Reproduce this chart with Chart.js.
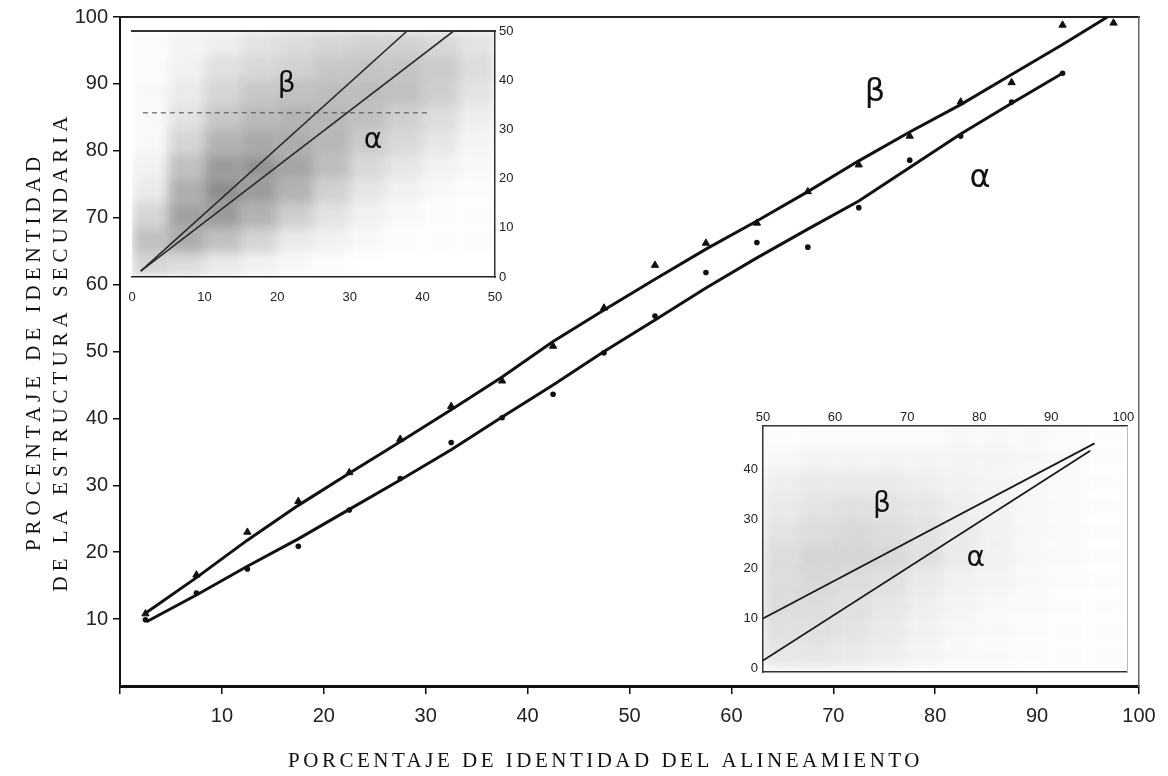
<!DOCTYPE html>
<html><head><meta charset="utf-8">
<script src="https://cdn.jsdelivr.net/npm/chart.js@4.4.1/dist/chart.umd.min.js"></script>
<style>
html,body{margin:0;padding:0;background:#fff;}
#wrap{position:relative;width:1168px;height:776px;overflow:hidden;background:#fff;}
canvas{position:absolute;display:block;}
#main{left:0;top:0;}
#in1{left:122px;top:18px;background:#fff;}
#in2{left:735px;top:398px;background:#fff;}
</style></head><body>
<div id="wrap">
<canvas id="main" width="1168" height="776"></canvas>
<canvas id="in1" width="410" height="300"></canvas>
<canvas id="in2" width="402" height="282"></canvas>
</div>
<script>
// ---------- MAIN CHART DATA ----------
const xTitle = 'PORCENTAJE DE IDENTIDAD DEL ALINEAMIENTO';
const yTitle = ['PROCENTAJE DE IDENTIDAD', 'DE LA ESTRUCTURA SECUNDARIA'];
const mainXTicks = [0,10,20,30,40,50,60,70,80,90,100];
const mainYTicks = [10,20,30,40,50,60,70,80,90,100];

const betaMarkerX = [2.5,7.5,12.5,17.5,22.5,27.5,32.5,37.5,42.5,47.5,52.5,57.5,62.5,67.5,72.5,77.5,82.5,87.5,92.5,97.5];
const betaMarkerY = [10.8,16.6,23.0,27.6,31.9,36.9,41.8,45.6,50.8,56.5,62.9,66.2,69.2,73.9,77.9,82.2,87.3,90.2,98.8,99.1];
const alphaMarkerX = [2.5,7.5,12.5,17.5,22.5,27.5,32.5,37.5,42.5,47.5,52.5,57.5,62.5,67.5,72.5,77.5,82.5,87.5,92.5];
const alphaMarkerY = [9.9,13.9,17.5,20.9,26.3,31.0,36.4,40.1,43.6,49.8,55.3,61.8,66.3,65.6,71.5,78.6,82.2,87.3,91.6];

const betaFitX = [2.6,7.5,12.5,17.5,22.5,27.5,32.5,37.5,42.5,47.5,52.5,57.5,62.5,67.5,72.5,77.5,82.5,87.5,92.5,96.9];
const betaFitY = [11.0,16.2,21.8,27.0,31.8,36.5,41.3,46.2,51.5,56.2,60.8,65.3,69.5,73.9,78.5,82.8,86.9,91.4,95.9,100];
const alphaFitX = [2.6,7.5,12.5,17.5,22.5,27.5,32.5,37.5,42.5,47.5,52.5,57.5,62.5,67.5,72.5,77.5,82.5,87.5,92.5];
const alphaFitY = [9.6,13.6,17.9,22.0,26.4,30.8,35.3,40.2,45.0,50.0,54.7,59.5,64.0,68.3,72.5,77.5,82.5,87.1,91.6];

const mainGreekText = ['β','α'];
const mainGreekX = [74.1, 84.4];
const mainGreekY = [88.7, 75.8];

// ---------- INSET 1 (top-left) DATA ----------
const in1Ticks = [0,10,20,30,40,50];
const in1CellX = [2.5,7.5,12.5,17.5,22.5,27.5,32.5,37.5,42.5,47.5];
const in1RowLow  = [45,40,35,30,25,20,15,10,5,0];
const in1RowHigh = [50,45,40,35,30,25,20,15,10,5];
const in1Density = [
  [0.03,0.08,0.12,0.20,0.25,0.30,0.33,0.33,0.28,0.20],
  [0.03,0.10,0.22,0.28,0.33,0.40,0.42,0.42,0.38,0.25],
  [0.05,0.15,0.30,0.40,0.45,0.48,0.48,0.45,0.35,0.20],
  [0.05,0.20,0.40,0.50,0.55,0.52,0.45,0.35,0.25,0.12],
  [0.05,0.30,0.55,0.62,0.60,0.52,0.38,0.28,0.18,0.08],
  [0.10,0.45,0.72,0.78,0.65,0.48,0.28,0.18,0.10,0.05],
  [0.15,0.58,0.82,0.72,0.55,0.33,0.18,0.10,0.05,0.03],
  [0.30,0.68,0.72,0.55,0.35,0.20,0.10,0.05,0.03,0.02],
  [0.45,0.60,0.45,0.30,0.15,0.10,0.05,0.02,0.02,0.02],
  [0.30,0.25,0.15,0.10,0.05,0.02,0.00,0.00,0.00,0.00]
];
const in1StreakX = [1.5, 41];
const in1StreakY = [33.4, 33.4];
const in1BetaX = [1.2, 37.9];
const in1BetaY = [1.2, 50];
const in1AlphaX = [1.2, 44.3];
const in1AlphaY = [1.2, 50];
const in1GreekText = ['β','α'];
const in1GreekX = [21.3, 33.2];
const in1GreekY = [39.0, 27.8];

// ---------- INSET 2 (bottom-right) DATA ----------
const in2XTicks = [50,60,70,80,90,100];
const in2YTicks = [0,10,20,30,40];
const in2CellX = [52.5,57.5,62.5,67.5,72.5,77.5,82.5,87.5,92.5,97.5];
const in2RowLow  = [45,40,35,30,25,20,15,10,5,0];
const in2RowHigh = [50,45,40,35,30,25,20,15,10,5];
const in2Density = [
  [0.02,0.03,0.03,0.03,0.03,0.05,0.05,0.05,0.03,0.02],
  [0.05,0.08,0.08,0.08,0.08,0.08,0.08,0.06,0.04,0.02],
  [0.12,0.15,0.15,0.15,0.12,0.10,0.08,0.06,0.04,0.02],
  [0.15,0.20,0.22,0.20,0.18,0.12,0.10,0.06,0.04,0.02],
  [0.20,0.25,0.28,0.25,0.20,0.15,0.10,0.06,0.04,0.02],
  [0.25,0.30,0.30,0.28,0.22,0.15,0.10,0.06,0.04,0.02],
  [0.25,0.28,0.25,0.22,0.15,0.10,0.08,0.05,0.03,0.02],
  [0.25,0.25,0.22,0.18,0.12,0.08,0.05,0.04,0.02,0.02],
  [0.22,0.22,0.20,0.15,0.10,0.06,0.05,0.03,0.02,0.02],
  [0.18,0.18,0.15,0.12,0.08,0.05,0.04,0.03,0.02,0.02]
];
const in2BetaX = [50, 96];
const in2BetaY = [10, 45.3];
const in2AlphaX = [50, 95.4];
const in2AlphaY = [1.5, 43.8];
const in2GreekText = ['β','α'];
const in2GreekX = [66.5, 79.5];
const in2GreekY = [33.0, 22.0];

// ---------- helpers ----------
const pts = (xs, ys) => xs.map((x, i) => ({x, y: ys[i]}));
function densityDataset(cx, lows, highs, grid, alphaK, blur) {
  const data = [], colors = [];
  grid.forEach((row, r) => row.forEach((d, c) => {
    data.push({x: cx[c], y: [lows[r], highs[r]]});
    colors.push('rgba(0,0,0,' + (d * alphaK).toFixed(3) + ')');
  }));
  return {type: 'bar', data, backgroundColor: colors, borderWidth: 0,
    barPercentage: 1, categoryPercentage: 1, grouped: false, order: 10, blur};
}
const blurPlugin = {
  id: 'blurDs',
  beforeDatasetDraw(chart, args) {
    const ds = chart.data.datasets[args.index];
    if (ds.blur) { chart.ctx.save(); chart.ctx.filter = 'blur(' + ds.blur + 'px)'; }
  },
  afterDatasetDraw(chart, args) {
    const ds = chart.data.datasets[args.index];
    if (ds.blur) chart.ctx.restore();
  }
};
function greekPlugin(texts, xs, ys, font) {
  return {
    id: 'greek',
    afterDatasetsDraw(chart) {
      const {ctx, scales} = chart;
      ctx.save();
      ctx.font = font; ctx.fillStyle = '#111';
      ctx.textAlign = 'center'; ctx.textBaseline = 'middle';
      texts.forEach((t, i) => ctx.fillText(t, scales.x.getPixelForValue(xs[i]), scales.y.getPixelForValue(ys[i])));
      ctx.restore();
    }
  };
}
function spacingPlugin(map) {
  return {
    id: 'spacing',
    beforeDraw(chart) {
      Object.keys(map).forEach(id => {
        const s = chart.scales[id];
        if (s && !s._lsPatched) {
          const orig = s.drawTitle.bind(s);
          const cfg = map[id];
          s.drawTitle = function() {
            const c = this.ctx; c.save();
            c.letterSpacing = cfg.ls; c.translate(cfg.dx || 0, cfg.dy || 0);
            orig(); c.restore();
          };
          s._lsPatched = true;
        }
      });
    }
  };
}
const setTicks = arr => s => { s.ticks = arr.map(v => ({value: v})); };
const borderOnly = (pos, min, max, color, width, fit) => ({
  type: 'linear', position: pos, min, max,
  ticks: {display: false}, grid: {display: false},
  border: {display: true, color, width},
  afterFit: fit
});
// invisible tick marks used only as spacing between axis line and labels
const spacerGrid = len => ({display: true, drawOnChartArea: false, drawTicks: true, tickLength: len, color: 'rgba(0,0,0,0)', offset: false});
const tickFont = {family: "'Liberation Sans', Arial, sans-serif", size: 20};
const smallFont = {family: "'Liberation Sans', Arial, sans-serif", size: 13};

// ---------- MAIN CHART ----------
new Chart(document.getElementById('main'), {
  type: 'scatter',
  data: {datasets: [
    {data: pts(betaMarkerX, betaMarkerY), pointStyle: 'triangle', pointRadius: 4.2, backgroundColor: '#111', borderColor: '#111', borderWidth: 1, showLine: false},
    {data: pts(alphaMarkerX, alphaMarkerY), pointStyle: 'circle', pointRadius: 2.8, backgroundColor: '#111', borderColor: '#111', borderWidth: 0, showLine: false},
    {data: pts(betaFitX, betaFitY), showLine: true, borderColor: '#111', borderWidth: 3, pointRadius: 0, tension: 0},
    {data: pts(alphaFitX, alphaFitY), showLine: true, borderColor: '#111', borderWidth: 3, pointRadius: 0, tension: 0}
  ]},
  options: {
    responsive: false, animation: false, devicePixelRatio: 1,
    layout: {padding: {top: 16, right: 29, left: 0, bottom: 0}, autoPadding: false},
    plugins: {legend: {display: false}, tooltip: {enabled: false}},
    scales: {
      x: {type: 'linear', position: 'bottom', min: 0, max: 100,
        afterBuildTicks: setTicks(mainXTicks), afterFit: s => { s.height = 90; },
        ticks: {font: tickFont, color: '#222', padding: 10, maxRotation: 0, autoSkip: false, callback: v => v === 0 ? '' : v},
        grid: {display: true, drawOnChartArea: false, drawTicks: true, tickLength: 8, color: '#111', lineWidth: 1.5},
        border: {display: true, color: '#111', width: 3},
        title: {display: true, text: xTitle, color: '#111',
          font: {family: "'Liberation Serif', 'Times New Roman', serif", size: 21, lineHeight: 1.2},
          padding: {top: 0, bottom: 2}}},
      y: {type: 'linear', position: 'left', min: 0, max: 100,
        afterBuildTicks: setTicks(mainYTicks), afterFit: s => { s.width = 120; },
        ticks: {font: tickFont, color: '#222', padding: 5, autoSkip: false},
        grid: {display: true, drawOnChartArea: false, drawTicks: true, tickLength: 7, color: '#111', lineWidth: 1.5},
        border: {display: true, color: '#111', width: 2},
        title: {display: true, text: yTitle, color: '#111',
          font: {family: "'Liberation Serif', 'Times New Roman', serif", size: 21, lineHeight: 1.3},
          padding: {top: 21, bottom: 0}}},
      x2: borderOnly('top', 0, 100, '#222', 2, s => { s.height = 0; }),
      y2: borderOnly('right', 0, 100, '#666', 1.5, s => { s.width = 0; })
    }
  },
  plugins: [spacingPlugin({x: {ls: '3.5px', dx: -24}, y: {ls: '5px', dy: 0}}),
            greekPlugin(mainGreekText, mainGreekX, mainGreekY, "32px 'DejaVu Sans', sans-serif")]
});

// ---------- INSET 1 ----------
new Chart(document.getElementById('in1'), {
  type: 'scatter',
  data: {datasets: [
    densityDataset(in1CellX, in1RowLow, in1RowHigh, in1Density, 0.55, 6),
    {data: pts(in1StreakX, in1StreakY), showLine: true, borderColor: 'rgba(80,80,80,0.7)', borderWidth: 1.5, borderDash: [5, 4], pointRadius: 0, order: 5},
    {data: pts(in1BetaX, in1BetaY), showLine: true, borderColor: '#2a2a2a', borderWidth: 1.6, pointRadius: 0, order: 1},
    {data: pts(in1AlphaX, in1AlphaY), showLine: true, borderColor: '#2a2a2a', borderWidth: 1.6, pointRadius: 0, order: 1}
  ]},
  options: {
    responsive: false, animation: false, devicePixelRatio: 1,
    layout: {padding: {left: 10, top: 0, right: 0, bottom: 0}, autoPadding: false},
    plugins: {legend: {display: false}, tooltip: {enabled: false}},
    scales: {
      x: {type: 'linear', position: 'bottom', min: 0, max: 50, offset: false,
        afterBuildTicks: setTicks(in1Ticks), afterFit: s => { s.height = 41; },
        ticks: {font: smallFont, color: '#222', padding: 0, maxRotation: 0, autoSkip: false},
        grid: spacerGrid(13), border: {display: true, color: '#222', width: 1.5}},
      y: {type: 'linear', position: 'right', min: 0, max: 50,
        afterBuildTicks: setTicks(in1Ticks), afterFit: s => { s.width = 37; },
        ticks: {font: smallFont, color: '#222', padding: 0, autoSkip: false},
        grid: spacerGrid(4), border: {display: true, color: '#333', width: 1.5}},
      x2: borderOnly('top', 0, 50, '#333', 2, s => { s.height = 13; })
    }
  },
  plugins: [blurPlugin, greekPlugin(in1GreekText, in1GreekX, in1GreekY, "28px 'DejaVu Sans', sans-serif")]
});

// ---------- INSET 2 ----------
new Chart(document.getElementById('in2'), {
  type: 'scatter',
  data: {datasets: [
    densityDataset(in2CellX, in2RowLow, in2RowHigh, in2Density, 0.55, 6),
    {data: pts(in2BetaX, in2BetaY), showLine: true, borderColor: '#1a1a1a', borderWidth: 1.8, pointRadius: 0, order: 1},
    {data: pts(in2AlphaX, in2AlphaY), showLine: true, borderColor: '#1a1a1a', borderWidth: 1.8, pointRadius: 0, order: 1}
  ]},
  options: {
    responsive: false, animation: false, devicePixelRatio: 1,
    layout: {padding: 0, autoPadding: false},
    plugins: {legend: {display: false}, tooltip: {enabled: false}},
    scales: {
      x: {type: 'linear', position: 'top', min: 50, max: 100.5, offset: false,
        afterBuildTicks: setTicks(in2XTicks), afterFit: s => { s.height = 28; },
        ticks: {font: smallFont, color: '#222', padding: 0, maxRotation: 0, autoSkip: false},
        grid: spacerGrid(1), border: {display: true, color: '#333', width: 1.5}},
      y: {type: 'linear', position: 'left', min: -0.8, max: 48.8,
        afterBuildTicks: setTicks(in2YTicks), afterFit: s => { s.width = 28; },
        ticks: {font: smallFont, color: '#222', padding: 0, autoSkip: false},
        grid: spacerGrid(5), border: {display: true, color: '#333', width: 1.5}},
      x2: borderOnly('bottom', 50, 100.5, '#333', 1.5, s => { s.height = 8; }),
      y2: borderOnly('right', -0.8, 48.8, '#bbb', 1, s => { s.width = 10; })
    }
  },
  plugins: [blurPlugin, greekPlugin(in2GreekText, in2GreekX, in2GreekY, "28px 'DejaVu Sans', sans-serif")]
});
</script>
</body></html>
